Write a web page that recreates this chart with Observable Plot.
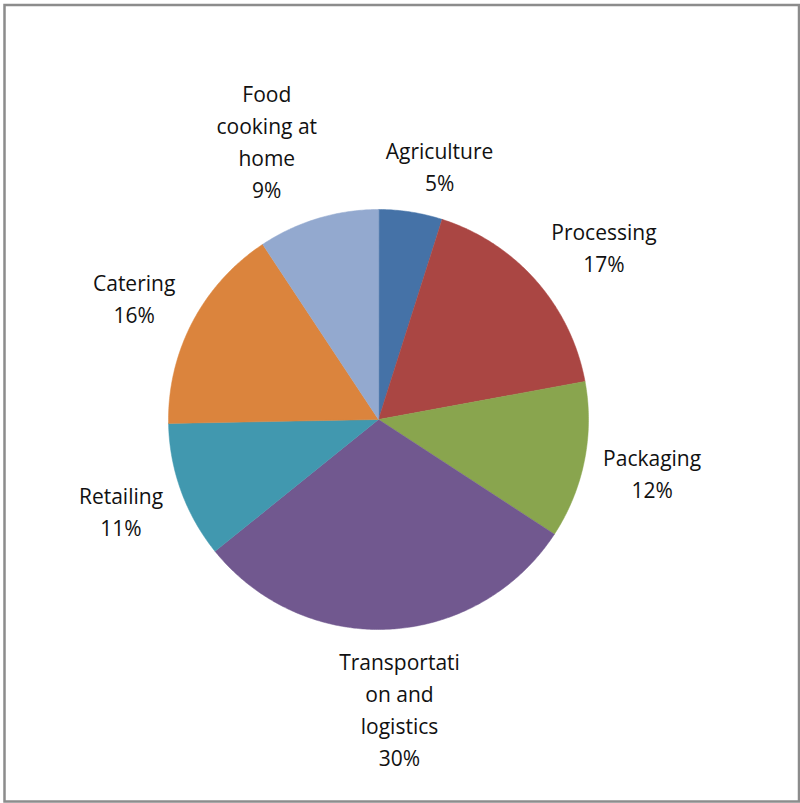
<!DOCTYPE html>
<html>
<head>
<meta charset="utf-8">
<script src="https://cdn.jsdelivr.net/npm/d3@7"></script>
<script src="https://cdn.jsdelivr.net/npm/@observablehq/plot@0.6"></script>
<style>
  html, body { margin: 0; padding: 0; background: #fff; }
</style>
</head>
<body>
<div id="chart"></div>
<script>
// ---- data ----
const categories = ["Agriculture", "Processing", "Packaging", "Transportation and logistics", "Retailing", "Catering", "Food cooking at home"];
const values = [4.9, 17.2, 12.1, 30.0, 10.5, 16.0, 9.3];
const labelLines = [
  ["Agriculture"],
  ["Processing"],
  ["Packaging"],
  ["Transportati", "on and", "logistics"],
  ["Retailing"],
  ["Catering"],
  ["Food", "cooking at", "home"]
];
const colors = ["#4572A7", "#AA4643", "#89A54E", "#71588F", "#4198AF", "#DB843D", "#93A9CF"];

// ---- geometry from the data ----
const R = 210;               // pie radius in px (scale maps [-1,1] to 2R px)
const fontSize = 21, lineH = 32, gap = 15, kx = 3, ky = 1.2;
const fontFamily = "'Open Sans', Lato, sans-serif";
const total = d3.sum(values);
const arcs = d3.pie().sort(null).value(d => d)(values);

const ctx = document.createElement("canvas").getContext("2d");
ctx.font = `${fontSize}px 'Open Sans'`;
const clamp = v => Math.max(-1, Math.min(1, v));

const slicePts = [];
const labels = [];
arcs.forEach((a, i) => {
  const cat = categories[i];
  slicePts.push({cat, x: 0, y: 0});
  const n = Math.max(2, Math.ceil((a.endAngle - a.startAngle) / 0.01));
  for (let j = 0; j <= n; j++) {
    const t = a.startAngle + (a.endAngle - a.startAngle) * j / n;
    slicePts.push({cat, x: Math.sin(t), y: Math.cos(t)});
  }
  const pct = Math.round(values[i] / total * 100) + "%";
  const lines = [...labelLines[i], pct];
  const w = d3.max(lines, l => ctx.measureText(l).width) / 2 + 4;
  const h = lines.length * lineH / 2;
  const mid = (a.startAngle + a.endAngle) / 2;
  const sx = Math.sin(mid), sy = Math.cos(mid);
  const px = R * sx + gap * sx + w * clamp(kx * sx);
  const py = R * sy + gap * sy + h * clamp(ky * sy);
  labels.push({cat, text: lines.join("\n"), x: px / R, y: py / R});
});

const cx = 378, cy = 419;
const chart = Plot.plot({
  width: 800,
  height: 803,
  margin: 0,
  x: {domain: [-1, 1], range: [cx - R, cx + R], axis: null},
  y: {domain: [-1, 1], range: [cy + R, cy - R], axis: null},
  color: {domain: categories, range: colors},
  marks: [
    Plot.line(slicePts, {x: "x", y: "y", z: "cat", fill: "cat", stroke: "cat", strokeWidth: 0.5, curve: "linear-closed"}),
    Plot.text(labels, {x: "x", y: "y", text: "text", fontSize, fontFamily, lineHeight: lineH / fontSize, textAnchor: "middle", fill: "#111"}),
    Plot.frame({stroke: "#8c8c8c", strokeWidth: 2.5, insetLeft: 4, insetTop: 4.5, insetRight: 1.5, insetBottom: 2})
  ]
});
document.getElementById("chart").appendChild(chart);
</script>
</body>
</html>
